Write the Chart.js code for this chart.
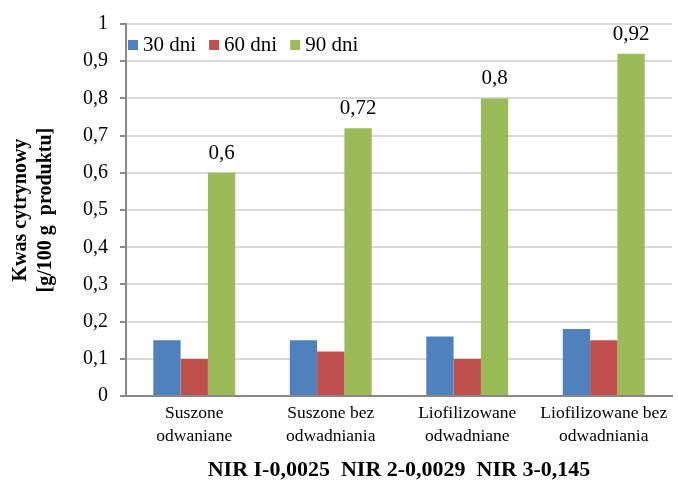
<!DOCTYPE html>
<html><head><meta charset="utf-8">
<script src="https://cdn.jsdelivr.net/npm/chart.js@4/dist/chart.umd.min.js"></script>
<style>html,body{margin:0;padding:0;background:#fff}#wrap{width:678px;height:484px}</style>
</head><body><div id="wrap"><canvas id="c" width="678" height="484"></canvas></div>
<script>
const categories = [["Suszone","odwaniane"],["Suszone bez","odwadniania"],["Liofilizowane","odwadniane"],["Liofilizowane bez","odwadniania"]];
const seriesNames = ["30 dni","60 dni","90 dni"];
const d30 = [0.15,0.15,0.16,0.18];
const d60 = [0.10,0.12,0.10,0.15];
const d90 = [0.60,0.72,0.80,0.92];
const yTicks = [0,0.1,0.2,0.3,0.4,0.5,0.6,0.7,0.8,0.9,1];
const labelled = [false,false,true];
const FONT = "'Liberation Serif', 'DejaVu Serif', serif";
const fmt = v => String(Math.round(v*100)/100).replace('.', ',');

const valuePlugin = {
  id:'vals',
  afterDatasetsDraw(chart){
    const ctx = chart.ctx;
    chart.data.datasets.forEach((ds,i)=>{
      if(!labelled[i]) return;
      const meta = chart.getDatasetMeta(i);
      ctx.save();
      ctx.font = "21px " + FONT;
      ctx.fillStyle = "#000";
      ctx.textAlign = "center";
      ctx.textBaseline = "bottom";
      meta.data.forEach((el,j)=>{
        ctx.fillText(fmt(ds.data[j]), el.x, el.y - 9);
      });
      ctx.restore();
    });
  }
};

const legendPlugin = {
  id:'inLegend',
  afterDraw(chart){
    const ctx = chart.ctx;
    const a = chart.chartArea;
    let x = a.left + 2;
    const y = a.top + 21;
    ctx.save();
    ctx.font = "21px " + FONT;
    ctx.textBaseline = "middle";
    ctx.textAlign = "left";
    chart.data.datasets.forEach(ds=>{
      ctx.fillStyle = ds.backgroundColor;
      ctx.fillRect(x, y-5, 10, 10);
      x += 15;
      ctx.fillStyle = "#000";
      ctx.fillText(ds.label, x, y);
      x += ctx.measureText(ds.label).width + 13;
    });
    ctx.restore();
  }
};

new Chart(document.getElementById('c'), {
  type:'bar',
  data:{
    labels: categories,
    datasets:[
      {label:seriesNames[0], data:d30, backgroundColor:'#4F81BD'},
      {label:seriesNames[1], data:d60, backgroundColor:'#C0504D'},
      {label:seriesNames[2], data:d90, backgroundColor:'#9BBB59'}
    ]
  },
  options:{
    responsive:false, animation:false,
    layout:{padding:{left:4,right:6,top:11,bottom:0}},
    datasets:{bar:{categoryPercentage:0.6, barPercentage:1.0}},
    plugins:{
      legend:{display:false},
      tooltip:{enabled:false}
    },
    scales:{
      x:{
        grid:{display:false, drawTicks:false},
        border:{color:'#888', width:2},
        ticks:{font:{family:FONT,size:17.5,lineHeight:1.3}, color:'#000', padding:6, maxRotation:0, autoSkip:false},
        title:{display:true, text:"NIR I-0,0025  NIR 2-0,0029  NIR 3-0,145", font:{family:FONT,size:22,weight:'bold'}, color:'#000', padding:{top:4,bottom:0}}
      },
      y:{
        min:0, max:1,
        afterBuildTicks(axis){ axis.ticks = yTicks.map(v=>({value:v})); },
        grid:{color:'#D9D9D9', lineWidth:2, tickColor:'#888', tickLength:6},
        border:{color:'#888', width:2},
        ticks:{font:{family:FONT,size:20}, color:'#000', padding:12, callback:v=>fmt(v)},
        title:{display:true, text:["Kwas cytrynowy","[g/100 g  produktu]"], font:{family:FONT,size:20,weight:'bold',lineHeight:1.25}, color:'#000', padding:{bottom:13}}
      }
    }
  },
  plugins:[valuePlugin, legendPlugin]
});
</script></body></html>
